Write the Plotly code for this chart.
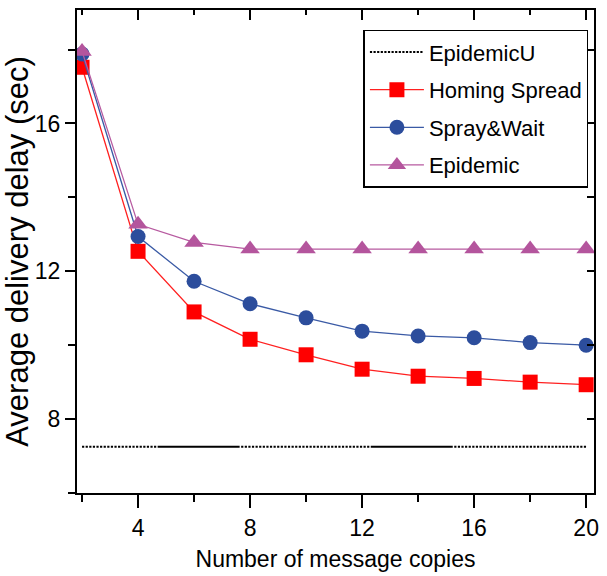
import plotly.graph_objects as go

# Number of message copies (x) and average delivery delay in seconds (y)
copies = [2, 4, 6, 8, 10, 12, 14, 16, 18, 20]
epidemic_u = [7.25, 7.25, 7.25, 7.25, 7.25, 7.25, 7.25, 7.25, 7.25, 7.25]
homing_spread = [17.52, 12.54, 10.90, 10.16, 9.74, 9.35, 9.16, 9.10, 9.00, 8.93]
spray_wait = [17.88, 12.94, 11.73, 11.12, 10.74, 10.38, 10.25, 10.20, 10.07, 10.00]
epidemic = [17.95, 13.27, 12.78, 12.60, 12.60, 12.60, 12.60, 12.60, 12.60, 12.60]

x_ticks = [4, 8, 12, 16, 20]
y_ticks = [8, 12, 16]
y_minor = [6, 10, 14, 18]

FONT = "Liberation Sans, Arial, sans-serif"

# dotted runs interrupted by two long solid runs
dot = "2.2px,1.4px"
dash_pattern = ",".join([dot] * 21 + ["82px,1.5px"] + [dot] * 36 + ["82px,1.5px"] + [dot] * 40)

fig = go.Figure()

fig.add_trace(go.Scatter(
    x=copies, y=epidemic_u, name="EpidemicU", mode="lines", legendgroup="u",
    line=dict(color="#000000", width=2, dash=dash_pattern),
))
fig.add_trace(go.Scatter(
    x=copies, y=homing_spread, name="Homing Spread", mode="lines+markers", legendgroup="h",
    line=dict(color="#ff2020", width=1.3),
    marker=dict(symbol="square", size=15, color="#ff0000"),
))
fig.add_trace(go.Scatter(
    x=copies, y=spray_wait, name="Spray&Wait", mode="lines+markers", legendgroup="s",
    line=dict(color="#3a5aa5", width=1.3),
    marker=dict(symbol="circle", size=15, color="#2c4d9c"),
))
fig.add_trace(go.Scatter(
    x=copies, y=epidemic, name="Epidemic", mode="lines+markers", legendgroup="e",
    line=dict(color="#b75aa0", width=1.3),
    marker=dict(symbol="triangle-up", size=17, color="#b4559d"),
))
# carrier trace for the mirrored top/right axes
fig.add_trace(go.Scatter(
    x=copies, y=epidemic_u, xaxis="x2", yaxis="y2", mode="lines",
    opacity=0, showlegend=False, hoverinfo="skip",
))

x_range = [1.82, 20.28]
y_range = [6.0, 19.07]

fig.update_layout(
    width=607, height=576,
    margin=dict(l=77, r=8, t=8, b=83),
    paper_bgcolor="white", plot_bgcolor="white",
    font=dict(family=FONT, color="black", size=22),
    showlegend=True,
    legend=dict(
        x=0.554, y=0.959, xanchor="left", yanchor="top",
        bgcolor="white", bordercolor="black", borderwidth=1.5,
        font=dict(family=FONT, size=22, color="black"),
        itemwidth=54, tracegroupgap=6,
    ),
    xaxis=dict(
        range=x_range, tickvals=x_ticks, ticks="outside", ticklen=13, tickwidth=1.5,
        tickcolor="black", minor=dict(tickvals=copies, ticks="outside", ticklen=7,
                                      tickwidth=1.5, tickcolor="black"),
        showline=True, linecolor="black", linewidth=2, mirror=True,
        showgrid=False, zeroline=False,
        tickfont=dict(family=FONT, size=23),
        title=dict(text="Number of message copies", standoff=11,
                   font=dict(family=FONT, size=23)),
    ),
    yaxis=dict(
        range=y_range, tickvals=y_ticks, ticks="outside", ticklen=10, tickwidth=1.5,
        tickcolor="black", minor=dict(tickvals=y_minor, ticks="outside", ticklen=7,
                                      tickwidth=1.5, tickcolor="black"),
        showline=True, linecolor="black", linewidth=2, mirror=True,
        showgrid=False, zeroline=False,
        tickfont=dict(family=FONT, size=23),
        title=dict(text="Average delivery delay (sec)", standoff=4,
                   font=dict(family=FONT, size=31)),
    ),
    xaxis2=dict(
        overlaying="x", side="top", range=x_range, tickvals=x_ticks,
        ticks="inside", ticklen=10, tickwidth=1.5, tickcolor="black",
        minor=dict(tickvals=copies, ticks="inside", ticklen=5, tickwidth=1.5, tickcolor="black"),
        showticklabels=False, showline=False, showgrid=False, zeroline=False,
    ),
    yaxis2=dict(
        overlaying="y", side="right", range=y_range, tickvals=y_ticks,
        ticks="inside", ticklen=7, tickwidth=1.5, tickcolor="black",
        minor=dict(tickvals=y_minor, ticks="inside", ticklen=7, tickwidth=1.5,
                   tickcolor="black"),
        showticklabels=False, showline=False, showgrid=False, zeroline=False,
    ),
)

fig.write_html("out.html")
